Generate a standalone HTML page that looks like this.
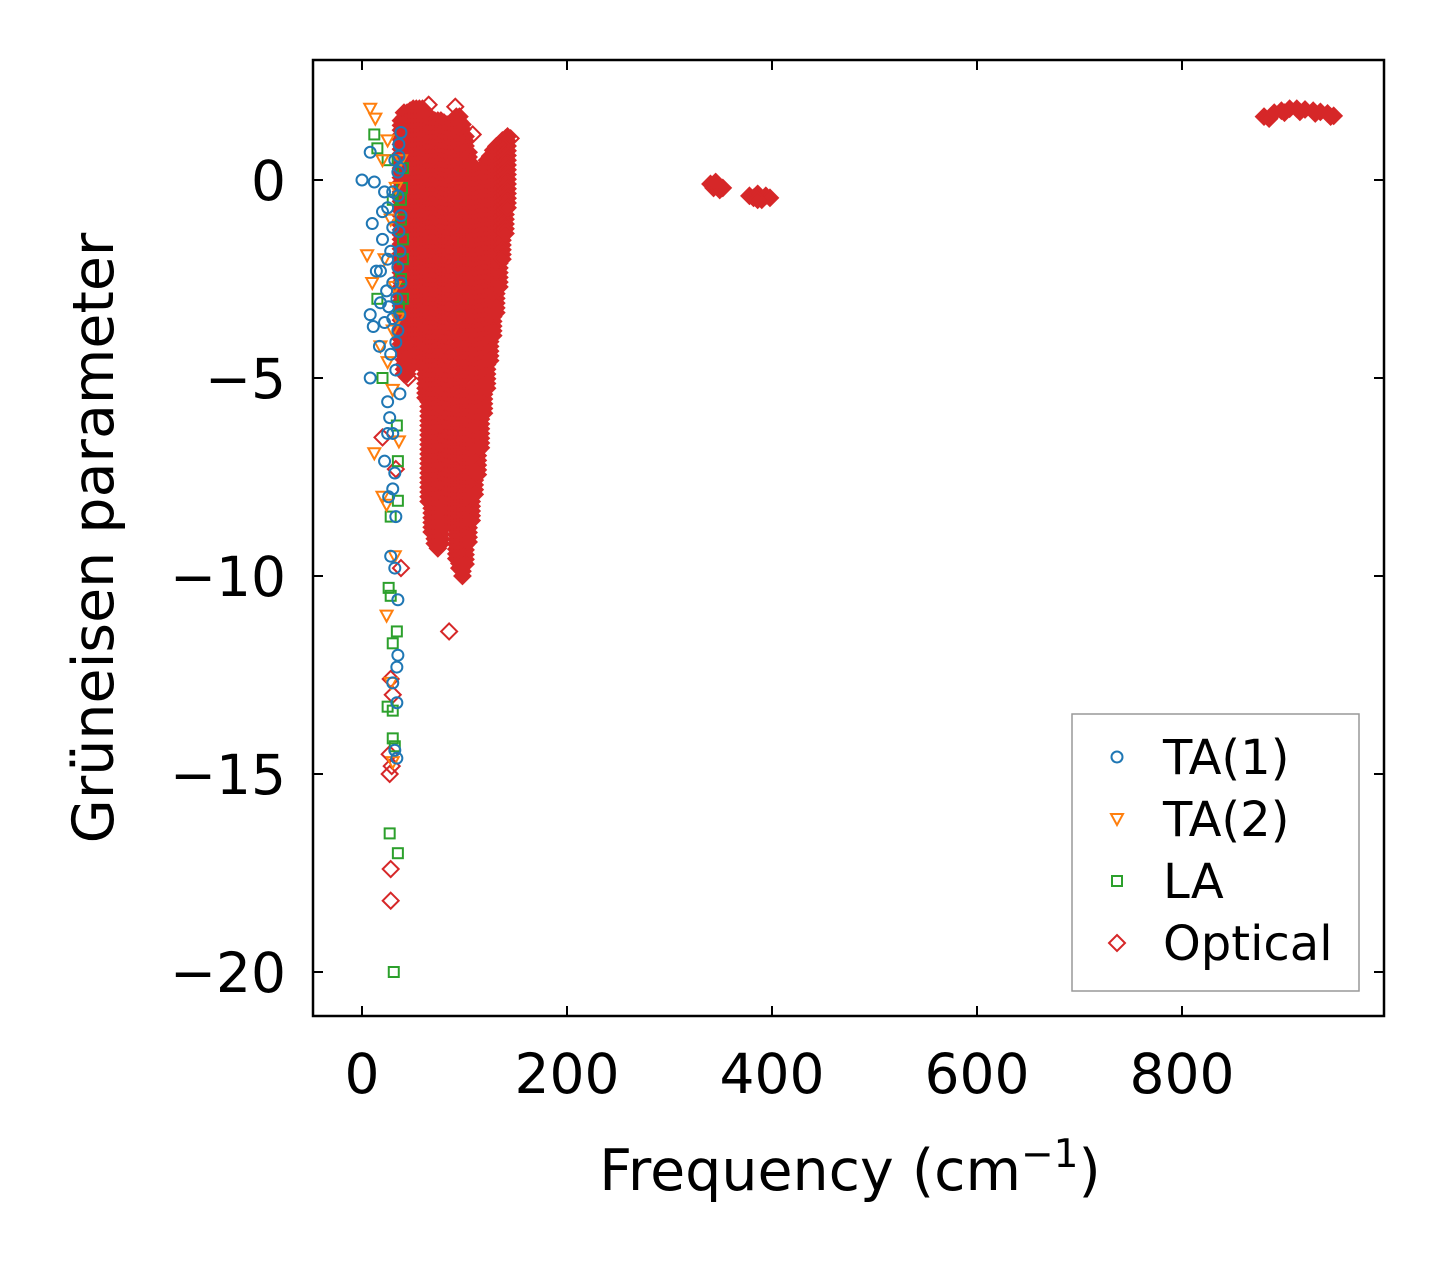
<!DOCTYPE html>
<html><head><meta charset="utf-8"><style>
body{margin:0;background:#fff;}
svg text{font-family:"DejaVu Sans","Liberation Sans",sans-serif;fill:#000;}
</style></head><body>
<svg id="chart" width="1443" height="1264" xmlns="http://www.w3.org/2000/svg">
<rect width="1443" height="1264" fill="#fff"/>
<g id="marks"></g>
<g id="axes"></g>
</svg>
<script>
const xTicks=[0,200,400,600,800];
const yTicks=[0,-5,-10,-15,-20];
const yTickLabels=["0","\u22125","\u221210","\u221215","\u221220"];
const ta1=[[0,0],[8,0.7],[12,-0.05],[10,-1.1],[25,-0.7],[30,-0.3],[35,0.2],[38,1.2],[36,0.6],[20,-1.5],[25,-2.0],[14,-2.3],[18,-2.3],[30,-2.6],[8,-3.4],[11,-3.7],[18,-3.1],[22,-3.6],[17,-4.2],[28,-4.4],[33,-4.8],[8,-5.0],[37,-5.4],[25,-5.6],[27,-6.0],[25,-6.4],[30,-6.4],[22,-7.1],[32,-7.4],[30,-7.8],[26,-8.0],[33,-8.5],[28,-9.5],[32,-9.8],[35,-10.6],[35,-12.0],[34,-12.3],[30,-12.7],[34,-13.2],[34,-14.6],[32,-14.4],[36,0.9],[37,0.3],[35,-0.4],[38,-0.9],[36,-1.3],[37,-1.8],[35,-2.2],[38,-2.6],[34,-3.0],[37,-3.4],[35,-3.8],[33,-4.1],[30,-1.2],[28,-1.8],[24,-2.8],[22,-0.3],[20,-0.8],[32,0.5],[26,-3.2],[30,-3.5]];
const ta2=[[8,1.8],[13,1.55],[20,0.5],[25,1.0],[5,-1.9],[10,-2.6],[22,-2.0],[12,-6.9],[20,-8.0],[24,-8.2],[32,-9.5],[24,-11.0],[28,-12.7],[30,-14.7],[25,-4.6],[30,-3.8],[35,-3.5],[30,-5.3],[36,-6.6],[28,-1.0],[33,-0.2],[38,0.5],[18,-4.2],[32,-2.7]];
const la=[[12,1.15],[15,0.8],[25,0.5],[30,-0.5],[40,-1.5],[38,-2.5],[36,-3.2],[38,-1.0],[40,-2.0],[15,-3.0],[20,-5.0],[34,-6.2],[35,-7.1],[35,-8.1],[28,-8.5],[26,-10.3],[28,-10.5],[34,-11.4],[30,-11.7],[25,-13.3],[30,-13.4],[30,-14.1],[32,-14.3],[27,-16.5],[35,-17.0],[31,-20.0],[40,0.3],[38,-0.5],[40,-3.0],[39,-0.2]];
const optOutliers=[[65,1.9],[91,1.85],[108,1.15],[145,1.05],[85,-11.4],[28,-12.6],[27,-14.5],[27,-15.0],[28,-17.4],[28,-18.2],[20,-6.5],[38,-9.8],[45,-5.0],[43,-4.5],[30,-13.0],[29,-14.8],[33,-7.3]];
// dense optical band: frequency column, top and bottom of filled range
const bandFreq=[38,41,44,47,50,53,56,59,62,65,68,71,74,77,80,83,86,89,92,95,98,101,104,107,110,113,116,119,122,125,128,131,134,137,140,142];
const bandTop=[1.5,1.7,1.7,1.75,1.8,1.8,1.8,1.8,1.7,1.6,1.55,1.5,1.5,1.5,1.45,1.4,1.4,1.5,1.6,1.6,1.4,1.1,0.7,0.4,0.1,0.0,0.2,0.35,0.5,0.6,0.75,0.85,0.9,1.0,1.05,1.1];
const bandBottom=[-4.3,-5.0,-5.0,-4.8,-4.5,-4.0,-4.0,-4.3,-5.5,-8.2,-8.9,-9.2,-9.3,-9.2,-8.8,-8.3,-8.0,-8.8,-9.6,-9.9,-10.0,-9.8,-9.2,-8.6,-8.0,-7.5,-6.8,-6.0,-5.3,-4.6,-4.0,-3.4,-2.8,-2.1,-1.4,-0.8];
const farClusters=[[340,-0.1],[343,-0.2],[346,-0.15],[349,-0.25],[352,-0.2],[345,-0.05],[378,-0.4],[382,-0.45],[386,-0.35],[390,-0.5],[394,-0.4],[398,-0.45],[386,-0.5],[880,1.6],[885,1.55],[890,1.7],[897,1.75],[905,1.8],[912,1.8],[920,1.78],[928,1.75],[935,1.72],[942,1.68],[948,1.62],[900,1.7],[915,1.72],[930,1.68],[945,1.6]];

const X=v=>362+v*1.025;
const Y=v=>180-v*39.6;
const NS="http://www.w3.org/2000/svg";
const marks=document.getElementById('marks'), axes=document.getElementById('axes');
function mk(tag,attrs,parent){const e=document.createElementNS(NS,tag);for(const k in attrs)e.setAttribute(k,attrs[k]);parent.appendChild(e);return e;}
function marker(type,x,y,parent){
  let e;
  if(type==='c'){e=mk('circle',{cx:x,cy:y,r:5.5,fill:'none',stroke:'#1f77b4','stroke-width':2},parent);}
  else if(type==='t'){e=mk('path',{d:`M${x-6},${y-5}L${x+6},${y-5}L${x},${y+6}Z`,fill:'none',stroke:'#ff7f0e','stroke-width':2},parent);}
  else if(type==='s'){e=mk('rect',{x:x-5,y:y-5,width:10,height:10,fill:'none',stroke:'#2ca02c','stroke-width':2},parent);}
  else {e=mk('path',{d:`M${x},${y-8}L${x+8},${y}L${x},${y+8}L${x-8},${y}Z`,fill:'none',stroke:'#d62728','stroke-width':2},parent);}
  return e;
}
const gb=mk('g',{},marks);


for(let i=0;i<bandFreq.length;i++){
  const x=X(bandFreq[i]);
  for(let v=bandTop[i];v>=bandBottom[i]-0.001;v-=0.12){
    const d=marker('d',x,Y(v),gb);d.setAttribute('fill','#d62728');
    
    
  }
}
farClusters.forEach(p=>{const d=marker('d',X(p[0]),Y(p[1]),gb);d.setAttribute('fill','#d62728');
  
  });
optOutliers.forEach(p=>{const d=marker('d',X(p[0]),Y(p[1]),gb);
  
  });
[['la',la,'s'],['ta2',ta2,'t'],['ta1',ta1,'c']].forEach(([n,arr,t])=>{
  const g=mk('g',{},marks);
  
  
  arr.forEach(p=>{const e=marker(t,X(p[0]),Y(p[1]),g);
    
    });
});
const fr=mk('rect',{x:313,y:60,width:1071,height:956,fill:'none',stroke:'#000','stroke-width':2.5},axes);


xTicks.forEach(t=>{const x=X(t);
  mk('line',{x1:x,y1:1016,x2:x,y2:1006,stroke:'#000','stroke-width':2},axes);
  mk('line',{x1:x,y1:60,x2:x,y2:70,stroke:'#000','stroke-width':2},axes);
  const tx=mk('text',{x:x,y:1093,'font-size':55,'text-anchor':'middle'},axes);tx.textContent=t;
  
  
});
yTicks.forEach((t,i)=>{const y=Y(t);
  mk('line',{x1:313,y1:y,x2:323,y2:y,stroke:'#000','stroke-width':2},axes);
  mk('line',{x1:1384,y1:y,x2:1374,y2:y,stroke:'#000','stroke-width':2},axes);
  const tx=mk('text',{x:286,y:y+20,'font-size':55,'text-anchor':'end'},axes);tx.textContent=yTickLabels[i];
  
  
});
</script>
<svg style="position:absolute;left:0;top:0" width="1443" height="1264" xmlns="http://www.w3.org/2000/svg">
<text x="850" y="1190" font-size="57" text-anchor="middle" font-family="DejaVu Sans, Liberation Sans, sans-serif">Frequency (cm<tspan dy="-23" font-size="39">−1</tspan><tspan dy="23">)</tspan></text>
<text transform="translate(113,538) rotate(-90)" font-size="57" text-anchor="middle" font-family="DejaVu Sans, Liberation Sans, sans-serif">Grüneisen parameter</text>
<g>
<rect x="1072" y="714" width="287" height="277" fill="#fff" stroke="#999" stroke-width="1.5"/>
<circle cx="1117" cy="757" r="5.5" fill="none" stroke="#1f77b4" stroke-width="2"/>
<text x="1163" y="774" font-size="48" font-family="DejaVu Sans, Liberation Sans, sans-serif">TA(1)</text>
<path d="M1111,814L1123,814L1117,825Z" fill="none" stroke="#ff7f0e" stroke-width="2"/>
<text x="1163" y="836" font-size="48" font-family="DejaVu Sans, Liberation Sans, sans-serif">TA(2)</text>
<rect x="1112" y="876" width="10" height="10" fill="none" stroke="#2ca02c" stroke-width="2"/>
<text x="1163" y="898" font-size="48" font-family="DejaVu Sans, Liberation Sans, sans-serif">LA</text>
<path d="M1117,935L1125,943L1117,951L1109,943Z" fill="none" stroke="#d62728" stroke-width="2"/>
<text x="1163" y="960" font-size="48" font-family="DejaVu Sans, Liberation Sans, sans-serif">Optical</text>
</g>
</svg>
</body></html>
